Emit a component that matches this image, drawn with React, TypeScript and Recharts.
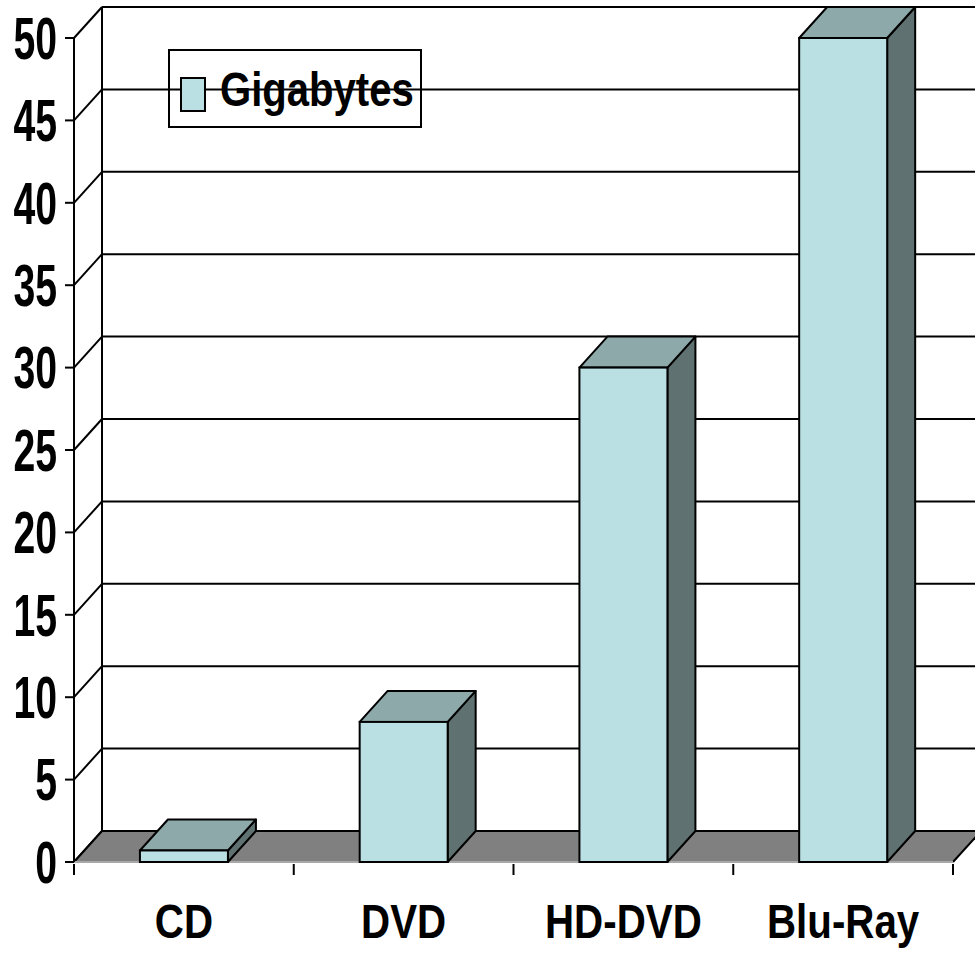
import React from 'react';
import { BarChart, Bar, XAxis, YAxis, CartesianGrid, ReferenceArea, Legend } from 'recharts';

const categories = ['CD', 'DVD', 'HD-DVD', 'Blu-Ray'];
const gigabytes = [0.7, 8.5, 30, 50];
const yTicks = [0, 5, 10, 15, 20, 25, 30, 35, 40, 45, 50];
const seriesName = 'Gigabytes';

const data = categories.map((name, i) => ({ name, value: gigabytes[i] }));

const DX = 28;
const DY = -31;
const FONT = "'Liberation Sans', Arial, sans-serif";
const FRONT = '#BAE0E3';
const TOP = '#8DA9AA';
const SIDE = '#5F7171';
const FLOOR = '#808080';

const Bar3D = (props: any) => {
  const { x, y, width, height } = props;
  if (x == null || width == null) return null;
  const w = width;
  const h = Math.max(height, 0);
  const top = `${x},${y} ${x + w},${y} ${x + w + DX},${y + DY} ${x + DX},${y + DY}`;
  const side = `${x + w},${y} ${x + w},${y + h} ${x + w + DX},${y + h + DY} ${x + w + DX},${y + DY}`;
  return (
    <g>
      <polygon points={side} fill={SIDE} stroke="#000" strokeWidth={2} strokeLinejoin="round" />
      <polygon points={top} fill={TOP} stroke="#000" strokeWidth={2} strokeLinejoin="round" />
      <rect x={x} y={y} width={w} height={h} fill={FRONT} stroke="#000" strokeWidth={2} />
    </g>
  );
};

const Walls = (props: any) => {
  const { x, y, width, height } = props;
  if (x == null) return null;
  const b = y + height;
  const floor = `${x},${b} ${x + width},${b} ${x + width + DX},${b + DY} ${x + DX},${b + DY}`;
  return (
    <g>
      <polygon points={floor} fill={FLOOR} stroke="none" />
      <line x1={x + DX} y1={b + DY} x2={x + width + DX + 20} y2={b + DY} stroke="#000" strokeWidth={2} />
      <line x1={x} y1={b} x2={x + DX} y2={b + DY} stroke="#000" strokeWidth={2} />
      <line x1={x + width} y1={b} x2={x + width + DX} y2={b + DY} stroke="#000" strokeWidth={2} />
      <line x1={x} y1={b} x2={x + width} y2={b} stroke="#A8A8A8" strokeWidth={2} />
      <line x1={x + DX} y1={y + DY} x2={x + DX} y2={b + DY} stroke="#000" strokeWidth={2} />
    </g>
  );
};

const GridLine = (p: any) => {
  const { x1, x2, y1 } = p;
  return (
    <g key={p.key ?? `g-${y1}`}>
      <line x1={x1 + DX} y1={y1 + DY} x2={x2 + DX + 20} y2={y1 + DY} stroke="#000" strokeWidth={2} />
      <line x1={x1} y1={y1} x2={x1 + DX} y2={y1 + DY} stroke="#000" strokeWidth={2} />
    </g>
  );
};

const XTick = (props: any) => {
  const { x, y, payload, index, visibleTicksCount, width } = props;
  const band = (width ?? 879) / (visibleTicksCount || 4);
  const left = x - band / 2;
  const right = x + band / 2;
  return (
    <g>
      <line x1={left} y1={y + 2} x2={left} y2={y + 13} stroke="#000" strokeWidth={2} />
      {index === visibleTicksCount - 1 && (
        <line x1={right} y1={y + 2} x2={right} y2={y + 13} stroke="#000" strokeWidth={2} />
      )}
      <g transform={`translate(${x},${y + 76}) scale(0.84,1)`}>
        <text x={0} y={0} textAnchor="middle" fontFamily={FONT} fontWeight="bold" fontSize={48} fill="#000">
          {payload.value}
        </text>
      </g>
    </g>
  );
};

const YTick = (props: any) => {
  const { x, y, payload } = props;
  return (
    <g transform={`translate(${x},${y}) scale(0.8,1.2)`}>
      <text x={0} y={0} dy="0.355em" textAnchor="end" fontFamily={FONT} fontWeight="bold" fontSize={49} fill="#000">
        {payload.value}
      </text>
    </g>
  );
};

const LegendBox = () => (
  <div
    style={{
      position: 'relative',
      width: 254,
      height: 79,
      boxSizing: 'border-box',
      border: '2px solid #000',
      background: 'transparent',
    }}
  >
    <div
      style={{
        position: 'absolute',
        left: 10,
        top: 26,
        width: 26,
        height: 35,
        boxSizing: 'border-box',
        background: FRONT,
        border: '2px solid #000',
      }}
    />
    <div
      style={{
        position: 'absolute',
        left: 50,
        top: 0,
        lineHeight: '77px',
        fontFamily: FONT,
        fontWeight: 'bold',
        fontSize: 48,
        color: '#000',
        whiteSpace: 'nowrap',
        transform: 'scaleX(0.835)',
        transformOrigin: 'left center',
      }}
    >
      {seriesName}
    </div>
  </div>
);

export default function App() {
  return (
    <div style={{ position: 'absolute', left: 0, top: 0, width: 975, height: 956, background: '#fff' }}>
      <BarChart
        width={975}
        height={956}
        data={data}
        margin={{ top: 38, right: 22, left: 0, bottom: 0 }}
        barCategoryGap="30%"
      >
        <ReferenceArea y1={0} y2={50} shape={Walls} ifOverflow="visible" fill="none" stroke="none" />
        <CartesianGrid vertical={false} horizontal={GridLine as any} stroke="#000" />
        <XAxis
          dataKey="name"
          height={94}
          axisLine={false}
          tickLine={false}
          tickSize={0}
          tickMargin={0}
          tick={<XTick />}
          interval={0}
        />
        <YAxis
          width={74}
          domain={[0, 50]}
          ticks={yTicks}
          interval={0}
          axisLine={{ stroke: '#000', strokeWidth: 2 }}
          tickLine={{ stroke: '#000', strokeWidth: 2 }}
          tickSize={9}
          tickMargin={8}
          tick={<YTick />}
        />
        <Legend
          layout="horizontal"
          verticalAlign="middle"
          align="center"
          content={<LegendBox />}
          wrapperStyle={{ position: 'absolute', left: 168, top: 49, width: 254, height: 79 }}
        />
        <Bar dataKey="value" name={seriesName} shape={<Bar3D />} isAnimationActive={false} />
      </BarChart>
    </div>
  );
}
